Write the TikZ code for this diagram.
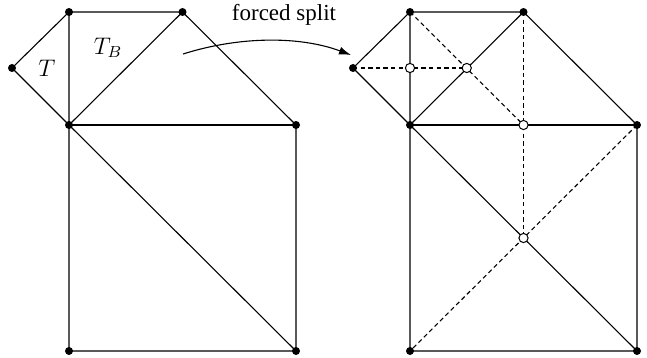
\documentclass[tikz,border=0pt]{standalone}
\usepackage{fontspec}
\setmainfont{Liberation Serif}
\usetikzlibrary{arrows.meta}
\begin{document}
\begin{tikzpicture}[x=0.5pt,y=-0.5pt,
  dot/.style={circle,fill=black,inner sep=0pt,minimum size=4pt},
  odot/.style={circle,draw=black,fill=white,line width=0.5pt,inner sep=0pt,minimum size=4.6pt},
  edge/.style={line width=0.55pt},
  dedge/.style={line width=0.55pt,dash pattern=on 2.2pt off 1.6pt},
  lbl/.style={inner sep=0pt,font=\fontsize{12}{14}\selectfont}]
\useasboundingbox (0,0) rectangle (647,358);
% left figure
\node[dot] (a) at (12,68) {};
\node[dot] (b) at (69,12) {};
\node[dot] (c) at (182.5,12) {};
\node[dot] (d) at (69,125) {};
\node[dot] (e) at (296,125) {};
\node[dot] (f) at (69,351) {};
\node[dot] (g) at (296,351) {};
\draw[edge] (a.center) -- (b.center) -- (c.center) -- (e.center) -- (g.center) -- (f.center) -- (d.center) -- (a.center);
\draw[edge] (b.center) -- (d.center) -- (c.center);
\draw[edge] (d.center) -- (e.center);
\draw[edge] (d.center) -- (g.center);
\node[lbl] (tl) at (47,68) {$T$};
\node[lbl] (tb) at (108,48) {$T_B$};
% right figure
\node[dot] (a2) at (353,68) {};
\node[dot] (b2) at (410,12) {};
\node[dot] (c2) at (523.5,12) {};
\node[dot] (d2) at (410,125) {};
\node[dot] (e2) at (637,125) {};
\node[dot] (f2) at (410,351) {};
\node[dot] (g2) at (637,351) {};
\coordinate (p1) at (410,68);
\coordinate (p2) at (466.75,68);
\coordinate (p3) at (523.5,125);
\coordinate (p4) at (523.5,238);
\draw[edge] (a2.center) -- (b2.center) -- (c2.center) -- (e2.center) -- (g2.center) -- (f2.center) -- (d2.center) -- (a2.center);
\draw[edge] (b2.center) -- (d2.center) -- (c2.center);
\draw[edge] (d2.center) -- (e2.center);
\draw[edge] (d2.center) -- (g2.center);
\draw[dedge] (a2.center) -- (p2);
\draw[dedge] (b2.center) -- (p3);
\draw[dedge] (c2.center) -- (p4);
\draw[dedge] (e2.center) -- (f2.center);
\node[odot] (q1) at (p1) {};
\node[odot] (q2) at (p2) {};
\node[odot] (q3) at (p3) {};
\node[odot] (q4) at (p4) {};
% arrow
\coordinate (s) at (183,54);
\coordinate (t) at (351,55);
\draw[line width=0.55pt,-{Latex[length=6pt,width=4pt]}] (s) .. controls (240,36) and (300,36) .. (t);
\node[inner sep=0pt,font=\fontsize{11.5}{13}\selectfont] (fs) at (284,15) {forced split};
\end{tikzpicture}
\end{document}
